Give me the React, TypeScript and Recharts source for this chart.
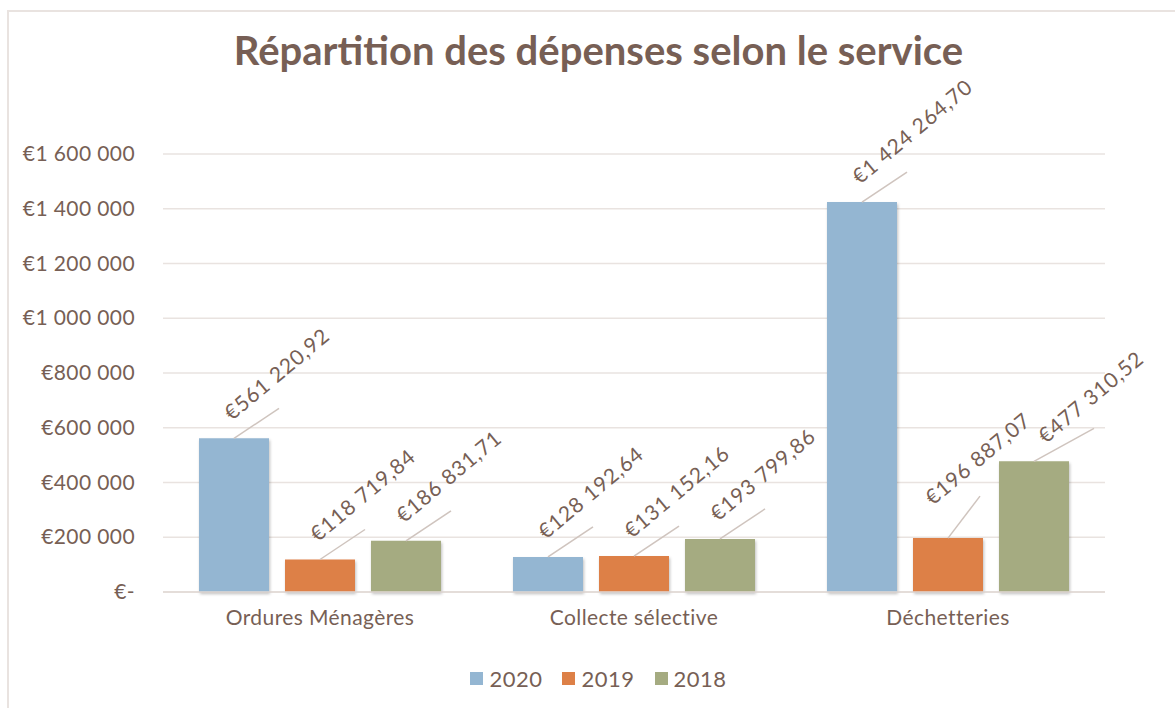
import {
  Bar,
  BarChart,
  CartesianGrid,
  Legend,
  XAxis,
  YAxis,
} from "recharts";

const categories = ["Ordures Ménagères", "Collecte sélective", "Déchetteries"];
const years = ["2020", "2019", "2018"];
const values2020 = [561220.92, 128192.64, 1424264.7];
const values2019 = [118719.84, 131152.16, 196887.07];
const values2018 = [186831.71, 193799.86, 477310.52];
const yTicks = [0, 200000, 400000, 600000, 800000, 1000000, 1200000, 1400000, 1600000];

const colors = ["#94B6D2", "#DD8047", "#A5AB81"];
const textColor = "#775F55";
const gridColor = "#E9E3E0";
const font = "Lato, 'Open Sans', sans-serif";

// labels that were dragged by hand in the original
const labelShift: Record<string, { tx: number; ty: number; lx: number; ly: number }> = {
  "y2019-2": { tx: -15, ty: -32, lx: 32, ly: -42 },
  "y2018-2": { tx: 12, ty: -17, lx: 60, ly: -33 },
};

const data = categories.map((name, i) => ({
  name,
  y2020: values2020[i],
  y2019: values2019[i],
  y2018: values2018[i],
}));

const groupThousands = (n: number) =>
  String(n).replace(/\B(?=(\d{3})+(?!\d))/g, " ");

const formatTick = (v: number) => (v === 0 ? "€-" : "€" + groupThousands(v));

const formatValue = (v: number) => {
  const [int, dec] = v.toFixed(2).split(".");
  return "€" + groupThousands(Number(int)) + "," + dec;
};

const YTick = (props: any) => {
  const { y, payload } = props;
  return (
    <text
      x={135}
      y={y}
      dy={7}
      textAnchor="end"
      fill={textColor}
      fontSize={21}
      letterSpacing={0.4}
      fontFamily={font}
    >
      {formatTick(payload.value)}
    </text>
  );
};

const ValueLabel = (props: any) => {
  const { x, y, width, value, index, series } = props;
  const s = labelShift[`${series}-${index}`] ?? { tx: -2, ty: -17, lx: 45, ly: -30 };
  const cx = x + width / 2;
  const tx = cx + s.tx;
  const ty = y + s.ty;
  return (
    <g>
      <line
        x1={cx}
        y1={y}
        x2={cx + s.lx}
        y2={y + s.ly}
        stroke="#CFC4BE"
        strokeWidth={1.5}
      />
      <text
        x={tx}
        y={ty}
        transform={`rotate(-40 ${tx} ${ty})`}
        fill={textColor}
        fontSize={21}
        letterSpacing={0.9}
        fontFamily={font}
      >
        {formatValue(value)}
      </text>
    </g>
  );
};

const LegendContent = () => (
  <div
    style={{
      display: "flex",
      justifyContent: "center",
      gap: 20,
      fontFamily: font,
      fontSize: 22,
      letterSpacing: 0.5,
      color: textColor,
    }}
  >
    {years.map((yr, i) => (
      <div key={yr} style={{ display: "flex", alignItems: "center", gap: 6 }}>
        <span
          style={{ width: 13, height: 13, background: colors[i], display: "inline-block" }}
        />
        <span>{yr}</span>
      </div>
    ))}
  </div>
);

export default function App() {
  return (
    <div
      style={{
        position: "absolute",
        left: 0,
        top: 0,
        width: 1175,
        height: 708,
        overflow: "hidden",
        background: "#fff",
      }}
    >
      <div
        style={{
          position: "absolute",
          left: 7,
          top: 10,
          width: 1200,
          height: 720,
          border: `2px solid ${gridColor}`,
          boxSizing: "border-box",
        }}
      />
      <div
        style={{
          position: "absolute",
          top: 26,
          left: 0,
          width: 1197,
          textAlign: "center",
          fontFamily: font,
          fontWeight: 700,
          fontSize: 40,
          color: textColor,
        }}
      >
        Répartition des dépenses selon le service
      </div>
      <div style={{ position: "absolute", left: 0, top: 0 }}>
        <BarChart
          width={1175}
          height={708}
          data={data}
          margin={{ top: 154, right: 70, left: 0, bottom: 46 }}
          barCategoryGap={36}
          barGap={16}
        >
          <defs>
            <filter id="barShadow" x="-10%" y="-10%" width="130%" height="130%">
              <feDropShadow dx="1" dy="2" stdDeviation="1.5" floodColor="#000" floodOpacity="0.25" />
            </filter>
          </defs>
          <CartesianGrid vertical={false} stroke={gridColor} strokeWidth={1.5} />
          <XAxis
            dataKey="name"
            axisLine={{ stroke: "#E0D9D5", strokeWidth: 1.5 }}
            tickLine={false}
            tick={{ fill: textColor, fontSize: 21, fontFamily: font, letterSpacing: 0.4 }}
            tickMargin={12}
            height={40}
          />
          <YAxis
            domain={[0, 1600000]}
            ticks={yTicks}
            width={163}
            axisLine={false}
            tickLine={false}
            tick={<YTick />}
          />
          <Legend
            content={<LegendContent />}
            wrapperStyle={{ position: "absolute", top: 665, left: 0, width: 1197, height: 30 }}
          />
          {["y2020", "y2019", "y2018"].map((key, i) => (
            <Bar
              key={key}
              dataKey={key}
              name={years[i]}
              fill={colors[i]}
              barSize={70}
              filter="url(#barShadow)"
              isAnimationActive={false}
              label={(p: any) => <ValueLabel {...p} series={key} />}
            />
          ))}
        </BarChart>
      </div>
    </div>
  );
}
